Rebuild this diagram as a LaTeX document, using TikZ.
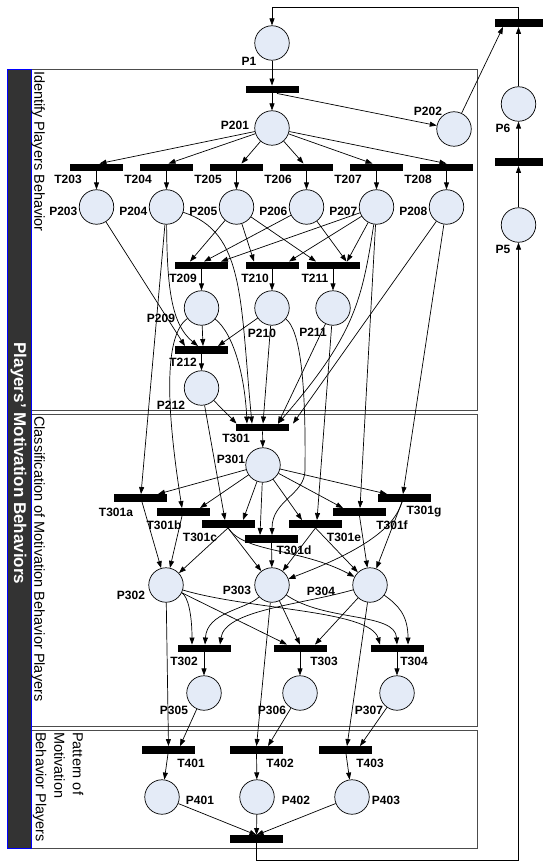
\documentclass[tikz,border=0pt]{standalone}
\usepackage{fontspec}
\setmainfont{Liberation Sans}
\usetikzlibrary{arrows.meta}
\definecolor{placefill}{HTML}{E4EBF7}
\definecolor{stripgray}{HTML}{333333}

\begin{document}
\begin{tikzpicture}[x=1pt,y=-1pt,
  place/.style={circle,draw,fill=placefill,minimum size=34.5pt,line width=0.7pt},
  bar/.style={fill=black,minimum width=53pt,minimum height=7.5pt},
  lbl/.style={font=\bfseries\fontsize{12}{12}\selectfont},
  lanetxt/.style={font=\fontsize{14.5}{18.5}\selectfont,rotate=-90,anchor=north west,align=left},
  arr/.style={-{Triangle[length=7pt,width=5pt]},line width=0.7pt}]
\tikzstyle{every node}+=[inner sep=0pt]
\useasboundingbox (0,0) rectangle (542,861);
\draw[black!70,line width=0.8pt] (31.5,69) rectangle (477,410);
\draw[black!70,line width=0.8pt] (31.5,414) rectangle (477,726);
\draw[black!70,line width=0.8pt] (31.5,730) rectangle (477,848);
\draw[fill=stripgray,draw=blue,line width=0.8pt] (7.5,69) rectangle (31.5,848);
\node[lanetxt] (lane1) at (45,71) {Identify Players Behavior};
\node[lanetxt] (lane2) at (45,416) {Classification of Motivation Behavior Players};
\node[lanetxt] (lane3) at (83.5,732) {Pattern of\\Motivation\\Behavior Players};
\node[font=\bfseries\fontsize{17}{17}\selectfont,text=white,rotate=-90,anchor=base] (strip) at (14,463.5) {Players’ Motivation Behaviors};

\node[place] (p1) at (272,43) {};
\node[lbl] (lp1) at (249,61) {P1};
\node[bar] (t201) at (272,89.5) {};
\node[place] (p201) at (272,128) {};
\node[lbl] (lp201) at (235,125) {P201};
\node[place] (p202) at (454,129) {};
\node[lbl] (lp202) at (428,111) {P202};
\node[bar] (t6) at (521,23) {};
\node[place] (p6) at (518.5,104) {};
\node[lbl] (lp6) at (503,128) {P6};
\node[bar] (t5) at (521,162) {};
\node[place] (p5) at (518.5,225) {};
\node[lbl] (lp5) at (503,249) {P5};
\foreach \n/\x in {203/96.5,204/166.5,205/236.5,206/306.5,207/376.5,208/446.5}{
  \node[bar] (t\n) at (\x,167.5) {};
  \node[lbl] (lt\n) at (\x-28.5,179) {T\n};
  \node[place] (p\n) at (\x,207) {};
  \node[lbl,anchor=east] (lp\n) at (\x-19,211.5) {P\n};
}
\node[bar] (t209) at (201.5,265.5) {};
\node[bar] (t210) at (272,265.5) {};
\node[bar] (t211) at (333,265.5) {};
\node[lbl] (lt209) at (183,278) {T209};
\node[lbl] (lt210) at (255,278) {T210};
\node[lbl] (lt211) at (315,278) {T211};
\node[place] (p209) at (201.5,308) {};
\node[place] (p210) at (272,308) {};
\node[place] (p211) at (333,308) {};
\node[lbl] (lp209) at (161,318) {P209};
\node[lbl] (lp210) at (262,333) {P210};
\node[lbl] (lp211) at (313,332) {P211};
\node[bar] (t212) at (201.5,350) {};
\node[lbl] (lt212) at (183,362) {T212};
\node[place] (p212) at (201.5,388) {};
\node[lbl] (lp212) at (171,405) {P212};
\node[bar] (t301) at (262.5,427.5) {};
\node[lbl] (lt301) at (236,438) {T301};
\node[place] (p301) at (263,465) {};
\node[lbl] (lp301) at (231,459) {P301};
\foreach \n/\x/\y/\lx/\ly in {a/140/498/116/512,b/183.5/512/164/525,c/228/524/200/537,d/271.5/539/294/550,e/315.5/524/344/537,f/359.5/512/392/525,g/404/498/424/512}{
  \node[bar] (t301\n) at (\x,\y) {};
  \node[lbl] (lt301\n) at (\lx,\ly) {T301\n};
}
\foreach \n/\x/\lx/\ly in {302/166/131/595,303/272/237/590,304/370/321/591}{
  \node[place] (p\n) at (\x,585) {};
  \node[lbl] (lp\n) at (\lx,\ly) {P\n};
}
\foreach \n/\x/\lx in {302/204/184,303/300/324,304/397/414}{
  \node[bar] (t\n) at (\x,648.5) {};
  \node[lbl] (lt\n) at (\lx,661) {T\n};
}
\foreach \n/\x/\lx in {305/204/174,306/300/272,307/397/369}{
  \node[place] (p\n) at (\x,693) {};
  \node[lbl] (lp\n) at (\lx,710) {P\n};
}
\foreach \n/\x/\lx in {401/168.5/191,402/256.5/280,403/345.5/370}{
  \node[bar] (t\n) at (\x,750) {};
  \node[lbl] (lt\n) at (\lx,763) {T\n};
}
\foreach \n/\x/\lx in {401/162/200,402/257/296,403/352/386}{
  \node[place] (p\n) at (\x,797) {};
  \node[lbl] (lp\n) at (\lx,800) {P\n};
}
\node[bar] (tend) at (256.5,839) {};

\draw[arr] (p1) -- (t201);
\draw[arr] (t201) -- (p201);
\draw[arr] ([xshift=5pt]t201.south) -- (p202);
\draw[arr] (p202) -- ([xshift=-18pt]t6.south);
\draw[arr] (p6) -- (p6 |- t6.south);
\draw[arr] (p6 |- t5.north) -- (p6);
\draw[arr] (p5) -- (p5 |- t5.south);
\draw[arr] (p6 |- t6.north) -- (p6 |- 0,7) -| (p1);
\draw[arr] (tend) -- (tend |- 0,860) -| (p5);

\foreach \n/\d in {203/3,204/2,205/5,206/-3,207/-4,208/0}{
  \draw[arr] (p201) -- ([xshift=\d pt]t\n.north);
  \draw[arr] (t\n) -- (p\n);
}
\draw[arr] (p205) -- ([xshift=-11.5pt]t209.north);
\draw[arr] (p206) -- ([xshift=2.5pt]t209.north);
\draw[arr] (p207) -- ([xshift=19.5pt]t209.north);
\draw[arr] (p205) -- ([xshift=-18pt]t210.north);
\draw[arr] (p207) -- ([xshift=17pt]t210.north);
\draw[arr] (p205) -- ([xshift=-17pt]t211.north);
\draw[arr] (p206) -- ([xshift=13.5pt]t211.north);
\draw[arr] (p207) -- ([xshift=14pt]t211.north);
\draw[arr] (t209) -- (p209);
\draw[arr] (t210) -- (p210);
\draw[arr] (t211) -- (p211);

\draw[arr] (p203) -- ([xshift=-16.5pt]t212.north);
\draw[arr] (p204) .. controls (167,290) and (172,325) .. ([xshift=-3.5pt]t212.north);
\draw[arr] (p209) -- ([xshift=1.5pt]t212.north);
\draw[arr] (p210) -- ([xshift=16.5pt]t212.north);
\draw[arr] (t212) -- (p212);

\draw[arr] (p212) -- ([xshift=-26pt]t301.north);
\draw[arr] (p209) .. controls (235,335) and (245,380) .. ([xshift=-15.5pt]t301.north);
\draw[arr] (p204) .. controls (245,232) and (240,300) .. ([xshift=-10.5pt]t301.north);
\draw[arr] (p210) -- ([xshift=0.5pt]t301.north);
\draw[arr] (p211) -- ([xshift=15.5pt]t301.north);
\draw[arr] (p207) .. controls (362,300) and (355,335) .. ([xshift=15.5pt]t301.north);
\draw[arr] (p208) -- ([xshift=30.5pt]t301.north);
\draw[arr] (t301) -- (p301);

\foreach \n/\d in {a/18,b/16.5,c/15,d/-11.5,e/-13.5,f/-16.5,g/-17}
  \draw[arr] (p301) -- ([xshift=\d pt]t301\n.north);
\draw[arr] (p204) -- ([xshift=1pt]t301a.north);
\draw[arr] (p209) .. controls (165,335) and (165,400) .. ([xshift=-1.5pt]t301b.north);
\draw[arr] (p212) -- ([xshift=-3pt]t301c.north);
\draw[arr] (p210) .. controls (300,330) and (306,380) .. (305,470) .. controls (305,495) and (272,500) .. ([xshift=0.5pt]t301d.north);
\draw[arr] (p211) -- ([xshift=1.5pt]t301e.north);
\draw[arr] (p207) -- ([xshift=0.5pt]t301f.north);
\draw[arr] (p208) -- ([xshift=-1pt]t301g.north);

\draw[arr] ([xshift=2pt]t301a.south) -- (p302);
\draw[arr] ([xshift=-1.5pt]t301b.south) -- (p302);
\draw[arr] (t301c.south) -- (p302);
\draw[arr] (t301c.south) -- (p303);
\draw[arr] (t301c.south) .. controls (245,553) and (300,548) .. (p304);
\draw[arr] (t301d) -- (p303);
\draw[arr] (t301e.south) -- (p303);
\draw[arr] (t301e.south) -- (p304);
\draw[arr] (t301f.south) -- (p304);
\draw[arr] ([xshift=-2pt]t301g.south) -- (p304);
\draw[arr] ([xshift=-2pt]t301g.south) .. controls (395,525) and (370,548) .. (p303);

\draw[arr] (p302) .. controls (188,596) and (192,615) .. ([xshift=-12pt]t302.north);
\draw[arr] (p303) .. controls (245,610) and (207,612) .. ([xshift=1pt]t302.north);
\draw[arr] (p304) .. controls (300,605) and (225,610) .. ([xshift=16pt]t302.north);
\draw[arr] (p302) -- ([xshift=-13pt]t303.north);
\draw[arr] (p303) -- (t303.north);
\draw[arr] (p304) -- ([xshift=15pt]t303.north);
\draw[arr] (p302) .. controls (250,610) and (370,610) .. ([xshift=-17pt]t304.north);
\draw[arr] (p303) .. controls (325,622) and (395,612) .. (t304.north);
\draw[arr] (p304) .. controls (398,605) and (408,615) .. ([xshift=11pt]t304.north);
\draw[arr] (t302) -- (p305);
\draw[arr] (t303) -- (p306);
\draw[arr] (t304) -- (p307);

\draw[arr] (p302) -- (t401.north);
\draw[arr] (p305) -- ([xshift=11.5pt]t401.north);
\draw[arr] (p303) -- (t402.north);
\draw[arr] (p306) -- ([xshift=11.5pt]t402.north);
\draw[arr] (p304) -- ([xshift=1.5pt]t403.north);
\draw[arr] (p307) -- ([xshift=14.5pt]t403.north);
\draw[arr] (t401) -- (p401);
\draw[arr] (t402) -- (p402);
\draw[arr] (t403) -- (p403);
\draw[arr] (p401) -- (tend.north);
\draw[arr] (p402) -- (tend.north);
\draw[arr] (p403) -- (tend.north);
\end{tikzpicture}
\end{document}
